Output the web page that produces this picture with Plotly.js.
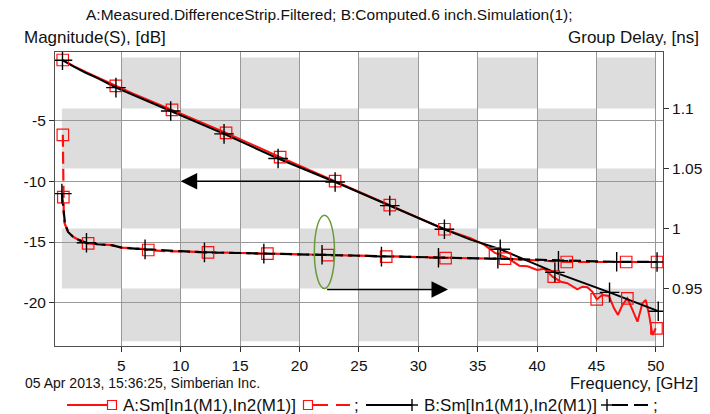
<!DOCTYPE html>
<html><head><meta charset="utf-8">
<script src="https://cdn.plot.ly/plotly-3.0.1.min.js"></script>
<style>html,body{margin:0;padding:0;background:#fff;}#chart{width:710px;height:414px;}</style>
</head><body><div id="chart"></div>
<script>
// ---- Magnitude (left axis, dB) ----
const aMagF  = [0.07,0.5,1,2,3,4.54,6,9.27,13.82,18.37,23.0,27.6,32.2,34.4,35.5,36.46,37.5,38.5,39.2,40.0,40.6,41.3,42.0,42.55,43.39,43.81,44.23,44.65,45.02,45.5,46.05,46.48,46.81,47.18,47.6,48.03,48.45,48.87,49.15,49.43,49.71,49.99];
const aMagDb = [0.0,-0.25,-0.5,-0.98,-1.42,-2.14,-2.78,-4.11,-6.0,-8.0,-9.98,-11.96,-13.95,-14.69,-15.2,-15.9,-16.3,-16.95,-17.0,-17.3,-17.2,-17.86,-18.27,-18.4,-18.9,-18.68,-18.73,-19.09,-19.72,-19.37,-19.45,-20.46,-21.01,-20.19,-19.64,-20.6,-21.57,-20.05,-19.78,-21.0,-22.66,-22.11];
const aMagMarkF  = [0.07,4.54,9.27,13.82,18.37,23.0,27.6,32.2,36.46,41.4,45.02,47.6,50.05];
const aMagMarkDb = [0.0,-2.14,-4.11,-6.0,-8.0,-9.98,-11.96,-13.95,-15.93,-17.86,-19.72,-19.64,-22.11];

const bMagF  = [0.05,0.5,1,2,3,4.55,6,9.16,13.65,18.2,23.0,27.6,32.2,34.4,36.9,41.5,46.1,50.2];
const bMagDb = [-0.02,-0.3,-0.55,-1.05,-1.5,-2.28,-2.9,-4.2,-6.09,-8.12,-10.05,-12.0,-13.95,-14.8,-15.6,-17.5,-19.15,-20.7];
const bMagMarkF  = [0.05,4.55,9.16,13.65,18.2,23.0,27.6,32.2,36.9,41.5,46.1,50.2];
const bMagMarkDb = [-0.02,-2.28,-4.2,-6.09,-8.12,-10.05,-12.0,-13.95,-15.6,-17.5,-19.15,-20.7];

// ---- Group delay (right axis, ns) ----
const aGdF  = [0.08,0.12,0.16,0.24,0.52,0.94,1.51,2.21,3,4.18,5.03,6.71,7.27,8.68,10,12.3,15,17.3,20,22.4,25,27.3,30,32.3,35,37.3,40,42.5,45,47.5,50.1];
const aGdNs = [1.078,1.026,1.0097,1.004,0.997,0.993,0.990,0.9875,0.9868,0.986,0.984,0.983,0.982,0.981,0.9808,0.980,0.9795,0.979,0.9784,0.9778,0.977,0.9765,0.9758,0.9752,0.975,0.9748,0.9735,0.972,0.972,0.972,0.972];
const aGdMarkF  = [0.08,0.12,2.21,7.27,12.3,17.3,22.4,27.3,32.3,37.3,42.5,47.5,50.1];
const aGdMarkNs = [1.078,1.026,0.9875,0.982,0.980,0.979,0.9778,0.9765,0.9752,0.9748,0.972,0.972,0.972];

const bGdF  = [0.0,0.26,0.52,0.94,1.51,2.07,3,4.18,5.03,7.0,10,12,15,17,20,21.9,25,26.9,30,31.7,35,36.7,40,41.8,45,46.7,50.1];
const bGdNs = [1.029,1.004,0.997,0.993,0.990,0.988,0.9868,0.986,0.984,0.9825,0.981,0.980,0.9795,0.979,0.9784,0.978,0.977,0.9765,0.9758,0.9755,0.975,0.9748,0.9738,0.973,0.9725,0.9722,0.972];
const bGdMarkF  = [0.0,2.07,7.0,12,17,21.9,26.9,31.7,36.7,41.8,46.7,50.1];
const bGdMarkNs = [1.029,0.988,0.9825,0.980,0.979,0.978,0.9765,0.9755,0.9748,0.973,0.9722,0.972];

// ---- ticks & labels ----
const xTickVals = [5,10,15,20,25,30,35,40,45,50];
const yTickVals = [-5,-10,-15,-20];
const yTickText = ["-5","-10","-15","-20"];
const y2TickVals = [0.95,1,1.05,1.1];
const y2TickText = ["0.95","1","1.05","1.1"];
const bandCols = [0,5,10,15,20,25,30,35,40,45,50];
const bandRows = [0.906,0.95,1.0,1.05,1.1,1.1425];
const titleText = "A:Measured.DifferenceStrip.Filtered; B:Computed.6 inch.Simulation(1);";
const leftTitle = "Magnitude(S), [dB]";
const rightTitle = "Group Delay, [ns]";
const xTitle = "Frequency, [GHz]";
const footText = "05 Apr 2013, 15:36:25, Simberian Inc.";
const legA = "A:Sm[In1(M1),In2(M1)]";
const legB = "B:Sm[In1(M1),In2(M1)]";

const RED = '#ff1010', BLK = '#000000';
const FONT = 'Liberation Sans, Arial, sans-serif';
const L=55, R=663, T=52, B=346;
const xp = p => (p-L)/(R-L);
const yp = p => (B-p)/(B-T);

const traces = [
  {x:aGdF, y:aGdNs, yaxis:'y2', mode:'lines', line:{color:RED, width:2.2, dash:'12px,5px'}},
  {x:bGdF, y:bGdNs, yaxis:'y2', mode:'lines', line:{color:BLK, width:2.2, dash:'12px,5px'}},
  {x:aMagF, y:aMagDb, mode:'lines', line:{color:RED, width:2}},
  {x:bMagF, y:bMagDb, mode:'lines', line:{color:BLK, width:2}},
  {x:aGdMarkF, y:aGdMarkNs, yaxis:'y2', mode:'markers', marker:{symbol:'square-open', size:11.5, color:RED, line:{width:1.2, color:RED}}},
  {x:aMagMarkF, y:aMagMarkDb, mode:'markers', marker:{symbol:'square-open', size:11.5, color:RED, line:{width:1.2, color:RED}}},
  {x:bGdMarkF, y:bGdMarkNs, yaxis:'y2', mode:'markers', marker:{symbol:'cross-thin-open', size:14, color:BLK, line:{width:1.4, color:BLK}}},
  {x:bMagMarkF, y:bMagMarkDb, mode:'markers', marker:{symbol:'cross-thin-open', size:14, color:BLK, line:{width:1.4, color:BLK}}}
];

const shapes = [];
for (let c=0;c<bandCols.length-1;c++){
  for (let r=0;r<bandRows.length-1;r++){
    if ((c+r)%2===1){
      shapes.push({type:'rect', layer:'below', xref:'x', yref:'y2', x0:bandCols[c], x1:bandCols[c+1], y0:bandRows[r], y1:bandRows[r+1], fillcolor:'#dddddd', line:{width:0}});
    }
  }
}
shapes.push({type:'circle', xref:'x', yref:'y2', x0:21.25, x1:22.95, y0:0.95, y1:1.011, line:{color:'#6a9a3a', width:1.5}});

// legend drawing (paper coords)
function hline(x0,x1,y,color,w){shapes.push({type:'line',xref:'paper',yref:'paper',x0:xp(x0),x1:xp(x1),y0:yp(y),y1:yp(y),line:{color:color,width:w}});}
function vline(x,y0,y1,color,w){shapes.push({type:'line',xref:'paper',yref:'paper',x0:xp(x),x1:xp(x),y0:yp(y0),y1:yp(y1),line:{color:color,width:w}});}
function sq(cx,cy){shapes.push({type:'rect',xref:'paper',yref:'paper',x0:xp(cx-4.5),x1:xp(cx+4.5),y0:yp(cy+4.5),y1:yp(cy-4.5),line:{color:RED,width:1.2}});}
function plus(cx,cy){hline(cx-6,cx+6,cy,BLK,1.4);vline(cx,cy-6,cy+6,BLK,1.4);}
const LY = 405;
hline(67,107.5,LY,RED,2); sq(112,LY);
sq(308,LY); hline(312.5,328,LY,RED,2); hline(336,350,LY,RED,2);
hline(366,412,LY,BLK,2); plus(412,LY);
plus(607,LY); hline(612,628,LY,BLK,2); hline(634,648,LY,BLK,2);

function txt(text,x,y,anchor,size){return {text:text,xref:'paper',yref:'paper',x:xp(x),y:yp(y),xanchor:anchor,yanchor:'middle',showarrow:false,font:{family:FONT,size:size,color:'#111'}};}
const annotations = [
  txt(titleText,84,15,'left',15.5),
  txt(leftTitle,22,38,'left',17),
  txt(rightTitle,701,38,'right',17),
  txt(xTitle,700,383,'right',16.5),
  txt(footText,23,383,'left',14),
  txt(legA,121,LY,'left',17),
  txt(';',352,LY,'left',17),
  txt(legB,422,LY,'left',17),
  txt(';',651,LY,'left',17),
  {x:10, y:-10, xref:'x', yref:'y', ax:23.0, ay:-10, axref:'x', ayref:'y', text:'', showarrow:true, arrowhead:2, arrowsize:2.2, arrowwidth:1.5, arrowcolor:BLK, standoff:0},
  {x:32.5, y:0.949, xref:'x', yref:'y2', ax:22.2, ay:0.949, axref:'x', ayref:'y2', text:'', showarrow:true, arrowhead:2, arrowsize:2.2, arrowwidth:1.5, arrowcolor:BLK, standoff:0}
];

const axCommon = {showline:true, linecolor:'#505050', linewidth:1, ticks:'outside', ticklen:5, tickcolor:'#303030', zeroline:false, tickfont:{family:FONT,size:15.5,color:'#111'}};
const layout = {
  width:710, height:414,
  margin:{l:L, r:710-R, t:T, b:414-B, pad:0},
  paper_bgcolor:'#fff', plot_bgcolor:'#fff',
  showlegend:false, hovermode:false,
  xaxis:Object.assign({}, axCommon, {range:[-0.58,50.6], tickmode:'array', tickvals:xTickVals, ticktext:xTickVals.map(String), showgrid:true, gridcolor:'#999999', gridwidth:1, mirror:true}),
  yaxis:Object.assign({}, axCommon, {range:[-23.57,0.66], tickmode:'array', tickvals:yTickVals, ticktext:yTickText, showgrid:true, gridcolor:'#999999', gridwidth:1, mirror:true}),
  yaxis2:Object.assign({}, axCommon, {overlaying:'y', side:'right', range:[0.902,1.147], tickmode:'array', tickvals:y2TickVals, ticktext:y2TickText, showgrid:false}),
  shapes:shapes, annotations:annotations
};
Plotly.newPlot('chart', traces, layout, {staticPlot:true, displayModeBar:false});
</script></body></html>
